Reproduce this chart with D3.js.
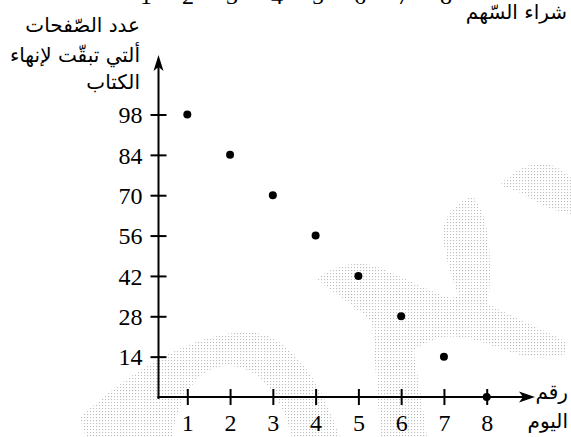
<!DOCTYPE html>
<html>
<head>
<meta charset="utf-8">
<script src="https://cdn.jsdelivr.net/npm/d3@7/dist/d3.min.js"></script>
<style>
  html, body { margin: 0; padding: 0; background: #fff; }
  svg { display: block; }
</style>
</head>
<body>
<svg id="chart" width="571" height="437"></svg>
<script>
// ---- data ----
const days = [1, 2, 3, 4, 5, 6, 7, 8];
const pagesLeft = [98, 84, 70, 56, 42, 28, 14, 0];
const yTickValues = [14, 28, 42, 56, 70, 84, 98];
const xTickValues = [1, 2, 3, 4, 5, 6, 7, 8];
const yTitleLines = ["عدد الصّفحات", "ألتي تبقّت لإنهاء", "الكتاب"];
const xTitleLines = ["رقم", "اليوم"];
const topTitle = "شراء السّهم";
const topRowDigits = ["1", "2", "3", "4", "5", "6", "7", "8"];

// ---- layout ----
const W = 571, H = 437;
const originX = 158.5, originY = 397;
const svg = d3.select("#chart");
svg.append("rect").attr("width", W).attr("height", H).attr("fill", "#fff");

const x = d3.scaleLinear().domain([1, 8]).range([187.3, 486.7]);
const y = d3.scaleLinear().domain([0, 98]).range([originY, 114.5]);

// ---- watermark (light halftone) ----
const defs = svg.append("defs");
const pat = defs.append("pattern").attr("id", "dots")
  .attr("width", 3).attr("height", 3).attr("patternUnits", "userSpaceOnUse");
pat.append("rect").attr("width", 1.1).attr("height", 1.1).attr("fill", "#bdbdbd");

const wm = svg.append("g").attr("fill", "url(#dots)").attr("stroke", "none");
const wmPaths = [
  // arch bottom-left
  "M80 418 C130 370 195 332 248 332 C292 333 322 385 340 437 L292 437 C282 400 262 366 228 366 C200 366 180 392 172 437 L86 437 C84 430 82 425 80 418 Z",
  // bird + vertical stem + right band
  "M317 279 C330 268 350 261 372 265 C395 272 420 288 450 298 L462 296 C470 300 485 302 500 310 C525 322 548 332 566 342 L566 354 C545 360 525 358 505 350 C480 342 460 333 440 338 C425 342 415 348 414 352 C418 380 424 410 427 437 L381 437 C378 400 374 350 372 322 C360 310 340 298 317 279 Z",
  // vertical band going up
  "M473 196 C480 205 487 220 489 245 C491 270 490 295 487 305 L460 300 C452 280 444 255 443 232 C443 215 460 200 473 196 Z",
  // top right shape
  "M500 185 C512 172 528 163 542 163 C556 165 566 172 571 178 L571 214 C556 212 540 205 525 195 C515 190 505 188 500 185 Z"
];
wm.selectAll("path").data(wmPaths).join("path").attr("d", d => d);

// ---- top cut-off content (row of a previous table, cropped by the frame) ----
svg.append("g").selectAll("text").data(topRowDigits).join("text")
  .attr("x", (d, i) => [146, 188, 232, 277, 318, 360, 403, 446][i])
  .attr("y", 4)
  .attr("text-anchor", "middle")
  .attr("font-family", "Liberation Serif, Times New Roman, serif")
  .attr("font-size", 24)
  .attr("fill", "#000")
  .text(d => d);

svg.append("text")
  .attr("x", 567).attr("y", 19)
  .attr("text-anchor", "end")
  .attr("font-family", "DejaVu Sans, sans-serif")
  .attr("font-size", 20)
  .attr("fill", "#000")
  .text(topTitle);

// ---- axes ----
const axisColor = "#000";
svg.append("line")
  .attr("x1", originX).attr("x2", originX)
  .attr("y1", originY + 2).attr("y2", 62)
  .attr("stroke", axisColor).attr("stroke-width", 2);
svg.append("path")
  .attr("d", `M${originX} 55 L${originX + 5} 71 L${originX} 67 L${originX - 5} 71 Z`)
  .attr("fill", axisColor);
svg.append("line")
  .attr("x1", originX - 1).attr("x2", 528)
  .attr("y1", originY).attr("y2", originY)
  .attr("stroke", axisColor).attr("stroke-width", 2);
svg.append("path")
  .attr("d", `M535 ${originY} L519 ${originY - 5.5} L523 ${originY} L519 ${originY + 5.5} Z`)
  .attr("fill", axisColor);

// y ticks
const yAxis = d3.axisLeft(y).tickValues(yTickValues).tickFormat(d3.format("d")).tickSize(8).tickPadding(8);
const gy = svg.append("g").attr("transform", `translate(${originX},0)`).call(yAxis);
gy.select(".domain").remove();
gy.selectAll(".tick line").attr("x1", -8).attr("x2", 8).attr("stroke", axisColor).attr("stroke-width", 2);
gy.selectAll(".tick text")
  .attr("font-family", "Liberation Serif, Times New Roman, serif")
  .attr("font-size", 24).attr("fill", "#000").attr("dy", "0.34em");

// x ticks
const xAxis = d3.axisBottom(x).tickValues(xTickValues).tickFormat(d3.format("d")).tickSize(8).tickPadding(9);
const gx = svg.append("g").attr("transform", `translate(0,${originY})`).call(xAxis);
gx.select(".domain").remove();
gx.selectAll(".tick line").attr("y1", -8).attr("y2", 8).attr("stroke", axisColor).attr("stroke-width", 2);
gx.selectAll(".tick text")
  .attr("font-family", "Liberation Serif, Times New Roman, serif")
  .attr("font-size", 24).attr("fill", "#000").attr("dy", "0.71em");

// ---- points ----
svg.append("g").selectAll("circle").data(days).join("circle")
  .attr("cx", (d) => x(d))
  .attr("cy", (d, i) => y(pagesLeft[i]))
  .attr("r", 4)
  .attr("fill", "#000");

// ---- axis titles ----
svg.append("g").selectAll("text").data(yTitleLines).join("text")
  .attr("x", 140)
  .attr("y", (d, i) => [32, 62, 89][i])
  .attr("text-anchor", "end")
  .attr("font-family", "DejaVu Sans, sans-serif")
  .attr("font-size", 20)
  .attr("fill", "#000")
  .text(d => d);

svg.append("g").selectAll("text").data(xTitleLines).join("text")
  .attr("x", 568)
  .attr("y", (d, i) => [399, 428][i])
  .attr("text-anchor", "end")
  .attr("font-family", "DejaVu Sans, sans-serif")
  .attr("font-size", 20)
  .attr("fill", "#000")
  .text(d => d);
</script>
</body>
</html>
